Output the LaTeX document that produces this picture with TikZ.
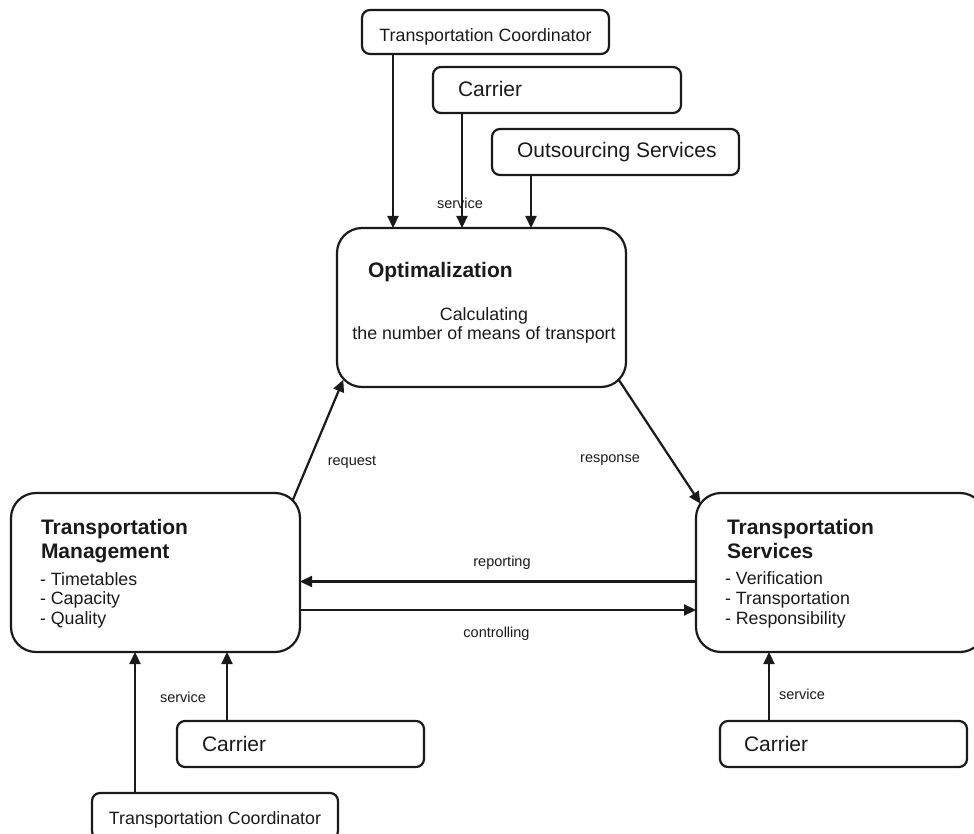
\documentclass[tikz,border=0pt]{standalone}
\usepackage{fontspec}
\setmainfont{Liberation Sans}
\usetikzlibrary{arrows.meta,calc}
\definecolor{ink}{HTML}{1A1A1A}
\begin{document}
\begin{tikzpicture}[x=1pt,y=-1pt,
  every node/.style={inner sep=0pt,outer sep=0pt,text=ink},
  smallbox/.style={draw=ink,line width=2.2pt,rounded corners=8pt,rectangle},
  bigbox/.style={draw=ink,line width=2.2pt,rounded corners=25pt,rectangle,
    minimum width=289pt,minimum height=159pt},
  arr/.style={draw=ink,line width=2.2pt,-{Triangle[length=12pt,width=11pt]}},
  lbl/.style={font=\fontsize{14.5}{17}\selectfont,anchor=base},
  mid/.style={font=\fontsize{17.8}{21}\selectfont,anchor=base},
  big/.style={font=\fontsize{21}{25}\selectfont,anchor=base west},
  head/.style={font=\fontsize{21}{25}\selectfont\bfseries,anchor=base west},
  item/.style={font=\fontsize{17.8}{21}\selectfont,anchor=base west}]
\clip (0,0) rectangle (974,834);

% suppliers above the optimisation step
\node[smallbox,minimum width=247pt,minimum height=44pt] (tcTop) at (485.5,32) {};
\node[smallbox,minimum width=248pt,minimum height=46pt] (carTop) at (557,90) {};
\node[smallbox,minimum width=247pt,minimum height=46pt] (outs) at (615.5,152) {};
\node[mid] (tcTopT) at (485.5,42) {Transportation Coordinator};
\node[big] (carTopT) at (458,97) {Carrier};
\node[big] (outsT) at (517,158) {Outsourcing Services};

% the three main blocks
\node[bigbox] (opt) at (481.5,307.5) {};
\node[bigbox] (tm) at (155.5,572.5) {};
\node[bigbox] (ts) at (840.5,572.5) {};

\node[head] (optT) at (368,278) {Optimalization};
\node[mid] (optA) at (484,320) {Calculating};
\node[mid] (optB) at (484,339.5) {the number of means of transport};

\node[head] (tmT1) at (41,534) {Transportation};
\node[head] (tmT2) at (41,558) {Management};
\node[item] (tmI1) at (40,585) {- Timetables};
\node[item] (tmI2) at (40,604.5) {- Capacity};
\node[item] (tmI3) at (40,624) {- Quality};

\node[head] (tsT1) at (727,534) {Transportation};
\node[head] (tsT2) at (727,558.5) {Services};
\node[item] (tsI1) at (725,584) {- Verification};
\node[item] (tsI2) at (725,604) {- Transportation};
\node[item] (tsI3) at (725,624) {- Responsibility};

% suppliers below the management and service blocks
\node[smallbox,minimum width=247pt,minimum height=46pt] (carBL) at (300.5,744) {};
\node[smallbox,minimum width=246pt,minimum height=46pt] (tcBot) at (215,816) {};
\node[smallbox,minimum width=247pt,minimum height=46pt] (carBR) at (843.5,744) {};
\node[big] (carBLT) at (202,751) {Carrier};
\node[mid] (tcBotT) at (215,824) {Transportation Coordinator};
\node[big] (carBRT) at (744,751) {Carrier};

% connectors into the optimisation step
\draw[arr] (tcTop.south west) ++(31,0) coordinate (a1) -- (a1 |- opt.north);
\draw[arr] (carTop.south west) ++(29,0) coordinate (a2) -- (a2 |- opt.north);
\draw[arr] (outs.south west) ++(39,0) coordinate (a3) -- (a3 |- opt.north);
\node[lbl] (svcTop) at (460,209) {service};

% request / response
\draw[arr] ($(tm.north east)+(-7.3,7.3)$) -- ($(opt.south west)+(6.3,-7.3)$);
\draw[arr] ($(opt.south east)+(-7.3,-7.3)$) -- ($(ts.north west)+(4.5,10.7)$);
\node[lbl] (req) at (352,465) {request};
\node[lbl] (resp) at (610,462) {response};

% reporting / controlling
\draw[arr] ([yshift=-9pt]ts.west) -- ([yshift=-9pt]tm.east);
\draw[arr] ([yshift=-37.5pt]tm.east) -- ([yshift=-37.5pt]ts.west);
\node[lbl] (rep) at (502,566) {reporting};
\node[lbl] (ctl) at (496.5,637) {controlling};

% connectors from below
\draw[arr] (tcBot.north west) ++(43,0) coordinate (b1) -- (b1 |- tm.south);
\draw[arr] (carBL.north west) ++(50,0) coordinate (b2) -- (b2 |- tm.south);
\draw[arr] (carBR.north west) ++(49,0) coordinate (b3) -- (b3 |- ts.south);
\node[lbl] (svcBL) at (183,702) {service};
\node[lbl] (svcBR) at (802,699) {service};
\end{tikzpicture}
\end{document}
